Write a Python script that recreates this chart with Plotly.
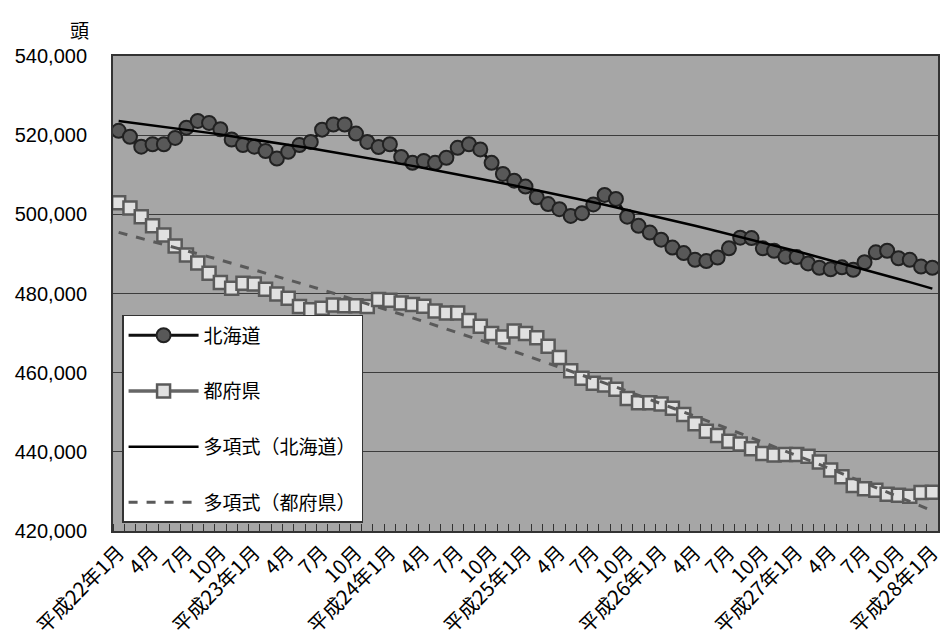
import numpy as np
import plotly.graph_objects as go

# Monthly head counts, 平成22年1月 .. 平成28年1月
hokkaido = [
    521100, 519600, 517100, 517700, 517700, 519300, 521900, 523600, 523100, 521500,
    518900, 517500, 517100, 516000, 514100, 515800, 517500, 518300, 521400, 522700,
    522700, 520400, 518300, 517000, 517700, 514500, 513000, 513500, 513000, 514300,
    516800, 517700, 516400, 513000, 510200, 508500, 507000, 504300, 502600, 501300,
    499600, 500300, 502500, 504900, 503900, 499400, 497100, 495400, 493600, 491600,
    490200, 488500, 488200, 489100, 491400, 494100, 494000, 491400, 490800, 489300,
    489200, 487600, 486500, 486100, 486600, 486000, 487900, 490400, 490800, 488900,
    488500, 486800, 486500,
]
todofuken = [
    502900, 501600, 499400, 497100, 494800, 492000, 489700, 487700, 485100, 482800,
    481300, 482600, 482400, 481100, 479900, 478800, 476700, 475900, 476300, 477100,
    476900, 476900, 476700, 478500, 478300, 477600, 477200, 476800, 475600, 475100,
    475100, 473200, 471700, 469900, 469000, 470500, 469900, 468800, 466700, 463800,
    460500, 458600, 457300, 456900, 455800, 453500, 452400, 452400, 452100, 451000,
    449400, 447100, 445200, 444100, 442700, 442000, 440800, 439600, 439200, 439300,
    439300, 438900, 437400, 435400, 433700, 431500, 430700, 430300, 429300, 429000,
    428800, 429700, 429800,
]

# Month labels: era year on January, month only otherwise
month_labels = []
for year in range(22, 29):
    for month in range(1, 13):
        month_labels.append(f"平成{year}年{month}月" if month == 1 else f"{month}月")
month_labels = month_labels[: len(hokkaido)]

series_names = ["北海道", "都府県", "多項式（北海道）", "多項式（都府県）"]
y_ticks = [420000, 440000, 460000, 480000, 500000, 520000, 540000]

x = np.arange(len(hokkaido))
label_idx = x[::3]

# Second-order polynomial trend lines
trend_h = np.polyval(np.polyfit(x, hokkaido, 2), x)
trend_t = np.polyval(np.polyfit(x, todofuken, 2), x)

fig = go.Figure()
fig.add_trace(go.Scatter(
    x=x, y=hokkaido, name=series_names[0], mode="lines+markers", legendgroup="a",
    line=dict(color="#111111", width=3),
    marker=dict(symbol="circle", size=14, color="#585858",
                line=dict(color="#222222", width=2)),
))
fig.add_trace(go.Scatter(
    x=x, y=todofuken, name=series_names[1], mode="lines+markers", legendgroup="b",
    line=dict(color="#666666", width=3.5),
    marker=dict(symbol="square", size=13, color="#e0e0e0",
                line=dict(color="#5a5a5a", width=2.5)),
))
fig.add_trace(go.Scatter(
    x=x, y=trend_h, name=series_names[2], mode="lines", legendgroup="c",
    line=dict(color="#000000", width=2.5),
))
fig.add_trace(go.Scatter(
    x=x, y=trend_t, name=series_names[3], mode="lines", legendgroup="d",
    line=dict(color="#5a5a5a", width=3, dash="dash"),
))

fig.update_layout(
    width=944, height=639,
    margin=dict(l=113, r=0, t=56, b=108),
    paper_bgcolor="#ffffff",
    plot_bgcolor="#a6a6a6",
    font=dict(family="Liberation Sans, Arial, sans-serif", color="#000000", size=20),
    showlegend=True,
    legend=dict(
        x=0.011, y=0.455, xanchor="left", yanchor="top",
        bgcolor="#ffffff", bordercolor="#333333", borderwidth=1.5,
        font=dict(family="Noto Sans CJK JP", size=19, color="#000000"),
        tracegroupgap=28, entrywidth=243, entrywidthmode="pixels",
        itemwidth=70,
    ),
    annotations=[dict(
        text="頭", xref="paper", yref="paper", x=-0.041, y=1.024,
        xanchor="center", yanchor="bottom", showarrow=False,
        font=dict(family="Noto Sans CJK JP", size=19, color="#000000"),
    )],
)

fig.update_xaxes(
    range=[-0.5, len(hokkaido) - 0.5],
    tickmode="array", tickvals=label_idx,
    ticktext=[month_labels[i] for i in label_idx],
    tickangle=-45, ticks="", ticklabeloverflow="allow",
    tickfont=dict(family="Noto Sans CJK JP", size=20, color="#000000"),
    showgrid=False, zeroline=False,
    showline=True, linecolor="#333333", linewidth=2, mirror=True,
    minor=dict(ticks="inside", tickvals=list(x - 0.5) + [len(hokkaido) - 0.5],
               ticklen=7, tickcolor="#333333", tickwidth=1),
)
fig.update_yaxes(
    range=[420000, 540000], tickmode="array", tickvals=y_ticks,
    tickformat=",d", ticks="", ticklabelstandoff=20,
    showgrid=True, gridcolor="#3c3c3c", gridwidth=1, zeroline=False,
    showline=True, linecolor="#333333", linewidth=2, mirror=True,
)

fig.write_html("out.html")
